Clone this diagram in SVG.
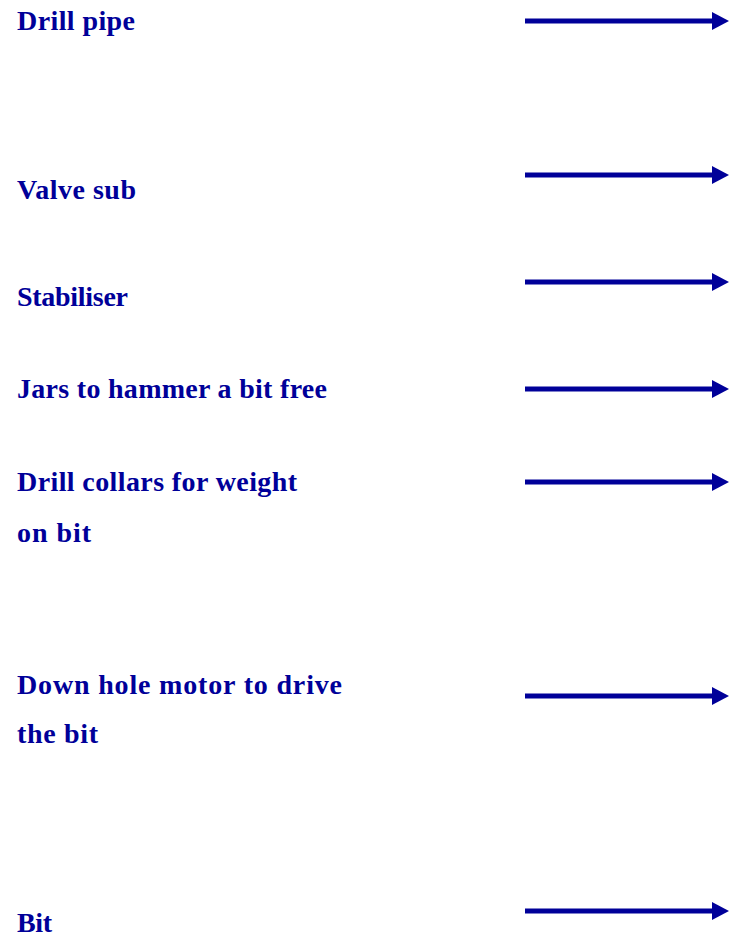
<svg xmlns="http://www.w3.org/2000/svg" width="731" height="951" viewBox="0 0 731 951">
<defs>
<style>
.lbl{font-family:"Liberation Serif","Times New Roman",serif;font-weight:bold;font-size:28px;fill:#000099}
.arr{stroke:#000099;stroke-width:5;fill:none;marker-end:url(#ah)}
</style>
<marker id="ah" markerUnits="userSpaceOnUse" markerWidth="18" markerHeight="18" refX="0" refY="9" orient="auto" viewBox="0 0 18 18">
<path d="M0,0 L17,9 L0,18 Z" fill="#000099"/>
</marker>
</defs>
<rect width="731" height="951" fill="#ffffff"/>
<g id="n-drill-pipe"><text class="lbl" x="17" y="30" textLength="118">Drill pipe</text></g>
<g id="n-valve-sub"><text class="lbl" x="17" y="199" textLength="119">Valve sub</text></g>
<g id="n-stabiliser"><text class="lbl" x="17" y="306" textLength="111">Stabiliser</text></g>
<g id="n-jars"><text class="lbl" x="17" y="398" textLength="310">Jars to hammer a bit free</text></g>
<g id="n-drill-collars"><text class="lbl" x="17" y="491" textLength="280">Drill collars for weight</text><text class="lbl" x="17" y="542" textLength="74">on bit</text></g>
<g id="n-motor"><text class="lbl" x="17" y="694" textLength="325">Down hole motor to drive</text><text class="lbl" x="17" y="743" textLength="81">the bit</text></g>
<g id="n-bit"><text class="lbl" x="17" y="932" textLength="35">Bit</text></g>
<g id="connectors">
<line class="arr" x1="525" y1="21" x2="712" y2="21"/>
<line class="arr" x1="525" y1="175" x2="712" y2="175"/>
<line class="arr" x1="525" y1="282" x2="712" y2="282"/>
<line class="arr" x1="525" y1="389" x2="712" y2="389"/>
<line class="arr" x1="525" y1="482" x2="712" y2="482"/>
<line class="arr" x1="525" y1="696" x2="712" y2="696"/>
<line class="arr" x1="525" y1="911" x2="712" y2="911"/>
</g>
</svg>
